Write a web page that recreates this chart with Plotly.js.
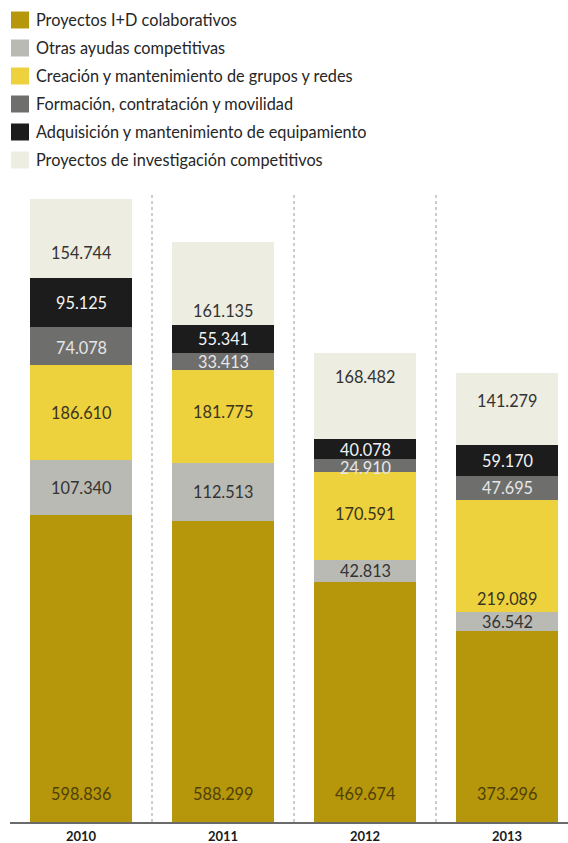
<!DOCTYPE html>
<html>
<head>
<meta charset="utf-8">
<script src="https://cdn.plot.ly/plotly-3.0.1.min.js"></script>
<style>html,body{margin:0;padding:0;background:#fff;}#chart{width:568px;height:843px;}</style>
</head>
<body>
<div id="chart"></div>
<script>
const years = ['2010', '2011', '2012', '2013'];
const seriesNames = [
  'Proyectos I+D colaborativos',
  'Otras ayudas competitivas',
  'Creación y mantenimiento de grupos y redes',
  'Formación, contratación y movilidad',
  'Adquisición y mantenimiento de equipamiento',
  'Proyectos de investigación competitivos'
];
const proyectosID = [598836, 588299, 469674, 373296];
const otrasAyudas = [107340, 112513, 42813, 36542];
const creacionGrupos = [186610, 181775, 170591, 219089];
const formacion = [74078, 33413, 24910, 47695];
const adquisicion = [95125, 55341, 40078, 59170];
const proyectosInv = [154744, 161135, 168482, 141279];

const seriesValues = [proyectosID, otrasAyudas, creacionGrupos, formacion, adquisicion, proyectosInv];
const barColors = ['#B6960B', '#BABAB4', '#EDD13D', '#6E6E6C', '#1C1C1C', '#EDEDE1'];
const labelColors = ['#4F4106', '#333333', '#3A3520', '#E6E6E6', '#F2F2F2', '#333333'];
// Vertical pixel nudges of value labels (layout only), per series and year
const labelNudge = [
  [29, 29, 29, 29],
  [0, 0, 0, 0],
  [0, 5, 2, -42],
  [-2, 0, -2, 0],
  [0, 0, 0, 0],
  [-14, -27, 19, 9]
];

function fmt(v) { return String(v).replace(/\B(?=(\d{3})+(?!\d))/g, '.'); }

const traces = seriesValues.map((vals, i) => ({
  type: 'bar',
  x: years,
  y: vals,
  name: seriesNames[i],
  marker: { color: barColors[i], line: { width: 0 } },
  hoverinfo: 'skip',
  showlegend: false
}));

// Geometry
const W = 568, H = 843;
const mL = 10, mR = 0, mT = 194, mB = 21;
const plotW = W - mL - mR, plotH = H - mT - mB;
const yMax = 1226500;

const annotations = [];
const cum = years.map(() => 0);
seriesValues.forEach((vals, i) => {
  vals.forEach((v, j) => {
    const base = cum[j];
    const isBottom = (i === 0);
    annotations.push({
      xref: 'x', yref: 'y',
      x: j,
      y: isBottom ? base : base + v / 2,
      yshift: labelNudge[i][j],
      text: fmt(v),
      showarrow: false,
      xanchor: 'center',
      yanchor: 'middle',
      font: { family: 'Lato, sans-serif', size: 16.3, color: labelColors[i] }
    });
    cum[j] += v;
  });
});

// Legend (manual)
const shapes = [];
const px2x = px => (px - mL) / plotW;
const py2y = py => (H - mB - py) / plotH;
seriesNames.forEach((n, i) => {
  const cy = 20 + 28 * i;
  shapes.push({
    type: 'rect', xref: 'paper', yref: 'paper',
    x0: px2x(11), x1: px2x(29), y0: py2y(cy + 8.5), y1: py2y(cy - 8.5),
    fillcolor: barColors[i], line: { width: 0 }
  });
  annotations.push({
    xref: 'paper', yref: 'paper', x: px2x(34), y: py2y(cy),
    xanchor: 'left', yanchor: 'middle', showarrow: false,
    text: n, font: { family: 'Lato, sans-serif', size: 16.3, color: '#262626' }
  });
});

// Dotted separators between bars
[0.5, 1.5, 2.5].forEach(xv => {
  shapes.push({
    type: 'line', xref: 'x', yref: 'paper', x0: xv, x1: xv, y0: 0, y1: 1,
    line: { color: '#9a9a9a', width: 1, dash: 'dot' }
  });
});

const layout = {
  width: W, height: H,
  margin: { l: mL, r: mR, t: mT, b: mB, pad: 0 },
  paper_bgcolor: '#ffffff', plot_bgcolor: '#ffffff',
  barmode: 'stack',
  bargap: 0.28,
  showlegend: false,
  font: { family: 'Lato, sans-serif' },
  xaxis: {
    type: 'category',
    range: [-0.5, -0.5 + plotW / 142],
    showline: true, linecolor: '#6a6a6a', linewidth: 1.5,
    showgrid: false, zeroline: false,
    ticks: '', ticklabelstandoff: 2,
    tickfont: { family: 'Lato, sans-serif', size: 13, color: '#1a1a1a', weight: 'bold' },
    automargin: false, fixedrange: true
  },
  yaxis: {
    range: [0, yMax], visible: false, showgrid: false, zeroline: false,
    automargin: false, fixedrange: true
  },
  shapes: shapes,
  annotations: annotations
};

Plotly.newPlot('chart', traces, layout, { displayModeBar: false, staticPlot: true });
</script>
</body>
</html>
